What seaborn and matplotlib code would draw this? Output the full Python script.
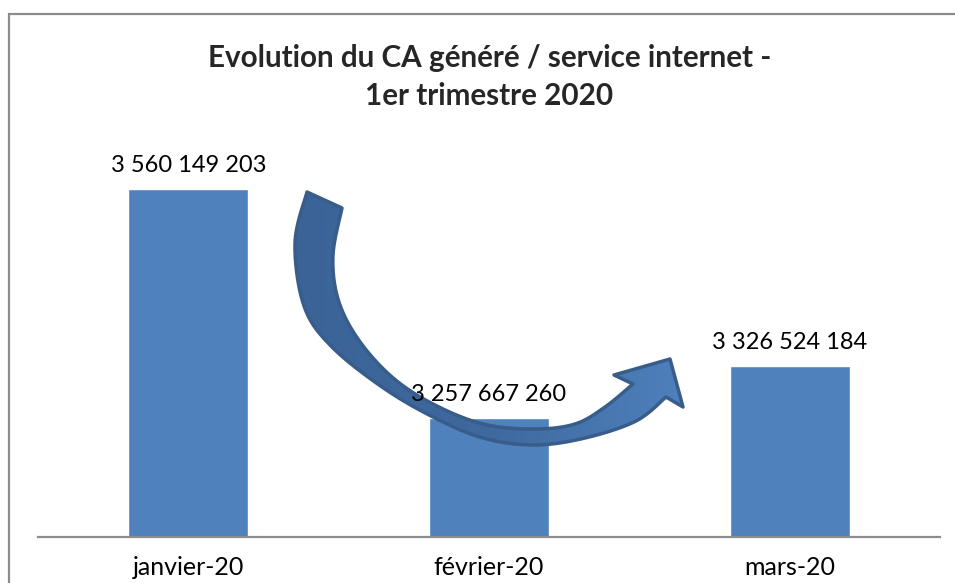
import matplotlib
matplotlib.use("Agg")
import matplotlib.pyplot as plt
import seaborn as sns
import pandas as pd
import numpy as np
from matplotlib.patches import Rectangle, Polygon
from matplotlib.colors import LinearSegmentedColormap

months = ["janvier-20", "février-20", "mars-20"]
revenue = [3560149203, 3257667260, 3326524184]
labels = ["3 560 149 203", "3 257 667 260", "3 326 524 184"]
title = "Evolution du CA généré / service internet -\n1er trimestre 2020"

sns.set_theme(style="white")
plt.rcParams['font.family'] = ['Lato', 'DejaVu Sans']

W, H = 955, 583
fig = plt.figure(figsize=(W / 100, H / 100), dpi=100)
ax = fig.add_axes([38 / W, (H - 537) / H, 902 / W, 378 / H])

df = pd.DataFrame({"mois": months, "ca": revenue})
sns.barplot(data=df, x="mois", y="ca", color="#4f81bd", saturation=1,
            width=0.4, ax=ax, zorder=2)
ax.set_ylim(3.1e9, 3.6e9)
ax.set_xlim(-0.5, 2.5)
ax.set_xlabel("")
ax.set_ylabel("")
ax.set_yticks([])
for s in ["left", "right", "top"]:
    ax.spines[s].set_visible(False)
ax.spines["bottom"].set_color("#8c8c8c")
ax.spines["bottom"].set_linewidth(1.6)
ax.tick_params(axis="x", length=0, pad=14, labelsize=18, colors="black")

# overlay axes in pixel coordinates for the decorative arrow
ov = fig.add_axes([0, 0, 1, 1], zorder=3)
ov.set_xlim(0, W)
ov.set_ylim(H, 0)
ov.axis("off")
ov.patch.set_alpha(0)


def smooth(pts, n=12):
    """Catmull-Rom smoothing of a decorative outline (pixel coords)."""
    p = np.asarray(pts, dtype=float)
    p = np.vstack([p[0], p, p[-1]])
    out = []
    for i in range(1, len(p) - 2):
        p0, p1, p2, p3 = p[i - 1], p[i], p[i + 1], p[i + 2]
        for t in np.linspace(0, 1, n, endpoint=False):
            t2, t3 = t * t, t * t * t
            out.append(0.5 * ((2 * p1) + (-p0 + p2) * t
                              + (2 * p0 - 5 * p1 + 4 * p2 - p3) * t2
                              + (-p0 + 3 * p1 - 3 * p2 + p3) * t3))
    out.append(p[-2])
    return [tuple(q) for q in out]


outer = [(307, 192), (295, 243), (304, 306), (331, 346), (382, 387),
         (433, 417), (483, 438), (534, 445), (585, 438), (636, 421), (666, 397)]
inner = [(342, 208), (333, 255), (338, 299), (358, 339), (392, 377),
         (433, 404), (483, 424), (534, 429), (575, 424), (605, 407), (633, 384)]
head = [(683, 407), (670, 359), (614, 375)]
shape = smooth(outer) + head + smooth(inner)[::-1]

fill_poly = Polygon(shape, closed=True, facecolor="none", edgecolor="none")
ov.add_patch(fill_poly)
cmap = LinearSegmentedColormap.from_list("arr", ["#3b6397", "#3f699f", "#4f81bd"])
grad = np.linspace(0, 1, 256).reshape(1, -1)
im = ov.imshow(grad, cmap=cmap, extent=(290, 690, 450, 185), aspect="auto",
               interpolation="bilinear", zorder=4)
im.set_clip_path(fill_poly)
ov.add_patch(Polygon(shape, closed=True, facecolor="none", edgecolor="#385d8a",
                     linewidth=2.5, joinstyle="round", zorder=5))

# value labels on top of everything
for i, (v, t) in enumerate(zip(revenue, labels)):
    x_disp, y_disp = ax.transData.transform((i, v))
    ov.annotate(t, (x_disp, H - y_disp), xytext=(0, 17), textcoords="offset points",
                ha="center", va="center", fontsize=17, color="black", zorder=10)

fig.text(0.5 + 12 / W, 1 - 77 / H, title, ha="center", va="center",
         fontsize=21.3, fontweight="bold", linespacing=1.45)

# frame around the chart area
fig.patches.append(Rectangle((8.5 / W, -0.1), 1.2, 1 - 14.5 / H + 0.1,
                             transform=fig.transFigure, fill=False,
                             edgecolor="#8c8c8c", linewidth=1.6, zorder=0))

fig.savefig("out.png", dpi=100)
